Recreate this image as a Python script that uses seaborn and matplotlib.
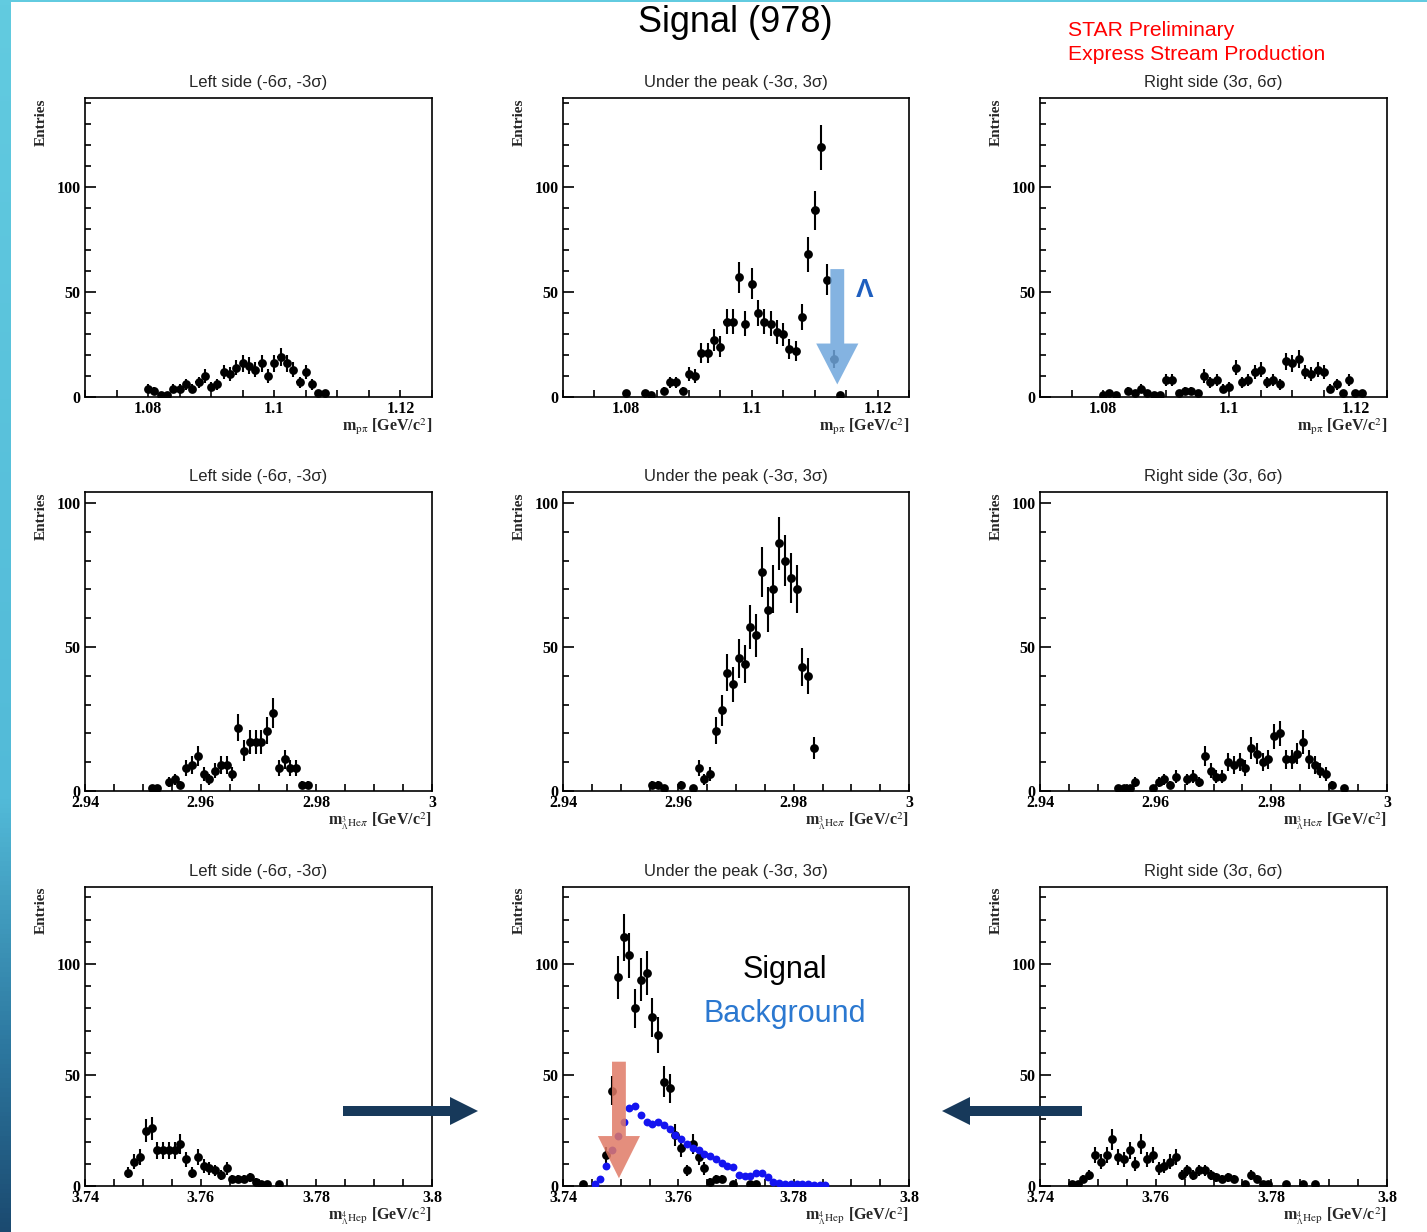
import numpy as np
import pandas as pd
import matplotlib
matplotlib.use("Agg")
import matplotlib.pyplot as plt
import seaborn as sns
from matplotlib.patches import FancyArrow, Rectangle
from matplotlib.ticker import MultipleLocator, FuncFormatter
from matplotlib.colors import LinearSegmentedColormap

nan = np.nan
BIN = 0.001  # bin width [GeV/c^2]

# ---- row 1: p pi invariant mass (bin centres start at *_x0) ----
lam_x0 = 1.0800
lam_left = [4, 3, 1, 1, 4, 4, 6, 4, 7, 10, 5, 6, 12, 11, 14, 16, 15, 13, 16, 10,
            16, 19, 16, 13, 7, 12, 6, 2, 2]
lam_peak = [2, nan, nan, 2, 1, nan, 3, 7, 7, 3, 11, 10, 21, 21, 27, 24, 36, 36, 57, 35,
            54, 40, 36, 35, 31, 30, 23, 22, 38, 68, 89, 119, 56, 18, 1]
lam_right = [1, 2, 1, nan, 3, 2, 4, 2, 1, 1, 8, 8, 2, 3, 3, 2, 10, 7, 8, 4,
             5, 14, 7, 8, 12, 13, 7, 8, 6, 17, 16, 18, 12, 11, 13, 12, 4, 6, 2, 8, 2, 2]

# ---- row 2: 3LH e pi invariant mass ----
h3_left_x0 = 2.9515
h3_left = [1, 1, nan, 3, 4, 2, 8, 9, 12, 6, 4, 7, 9, 9, 6, 22, 14, 17, 17, 17,
           21, 27, 8, 11, 8, 8, 2, 2]
h3_peak_x0 = 2.9555
h3_peak = [2, 2, 1, nan, nan, 2, nan, 1, 8, 4, 6, 21, 28, 41, 37, 46, 44, 57, 54, 76,
           63, 70, 86, 80, 74, 70, 43, 40, 15]
h3_right_x0 = 2.9535
h3_right = [1, 1, 1, 3, nan, nan, 1, 3, 4, 2, 5, nan, 4, 5, 3, 12, 7, 5, 5, 10,
            9, 10, 8, 15, 13, 10, 11, 19, 20, 11, 11, 13, 17, 11, 9, 7, 6, 2, nan, 1]

# ---- row 3: 4LH e p invariant mass ----
h4_left_x0 = 3.7475
h4_left = [6, 11, 13, 25, 26, 16, 16, 16, 16, 19, 12, 6, 13, 9, 8, 7, 5, 8, 3, 3,
           3, 4, 2, 1, 1, nan, 1]
h4_peak_x0 = 3.7435
h4_peak = [1, nan, nan, nan, 14, 43, 94, 112, 104, 80, 93, 96, 76, 68, 47, 44, 23, 17, 7, 19,
           13, 8, 2, 3, 3, nan, 1, nan, nan, 1, 1]
h4_bkg_x0 = 3.7455
h4_bkg = [1, 3, 9, 16, 22.5, 29, 35, 36, 32, 29, 28, 29, 27.5, 25.5, 23, 21, 19, 17.3, 16, 14.4,
          13.5, 12, 10.2, 9, 8.7, 5, 4.5, 4.5, 6, 5.7, 3.9, 2, 1.2, 0.9, 0.9, 0.9, 0.8, 0.8, 0.6, 0.5,
          0.4]
h4_right_x0 = 3.7455
h4_right = [1, 1, 3, 5, 14, 11, 14, 21, 13, 12, 16, 10, 19, 12, 14, 8, 9, 11, 13, 5,
            7, 5, 7, 7, 5, 4, 3, 4, 3, nan, 1, 5, 3, 1, 1, nan, nan, 1, nan, nan, 1, nan, 1]

col_titles = ["Left side (-6σ, -3σ)", "Under the peak (-3σ, 3σ)", "Right side (3σ, 6σ)"]
row_xlabels = [r"m$_{\mathrm{p\pi}}$ [GeV/c$^{2}$]",
               r"m$_{{}^{3}_{\Lambda}\mathrm{He}\pi}$ [GeV/c$^{2}$]",
               r"m$_{{}^{4}_{\Lambda}\mathrm{He}\mathrm{p}}$ [GeV/c$^{2}$]"]
row_xlims = [(1.07, 1.125), (2.94, 3.0), (3.74, 3.8)]
row_ymax = [142.6, 103.8, 134.7]

panels = [
    [(lam_x0, lam_left), (lam_x0, lam_peak), (lam_x0, lam_right)],
    [(h3_left_x0, h3_left), (h3_peak_x0, h3_peak), (h3_right_x0, h3_right)],
    [(h4_left_x0, h4_left), (h4_peak_x0, h4_peak), (h4_right_x0, h4_right)],
]

sns.set_theme(style="ticks")
plt.rcParams["font.family"] = ["Liberation Serif", "DejaVu Serif"]
plt.rcParams["mathtext.fontset"] = "stix"
SANS = ["Liberation Sans", "DejaVu Sans"]

W, H = 1427, 1232
fig = plt.figure(figsize=(W / 100, H / 100), dpi=100)
fig.patch.set_facecolor("white")

col_left = [85, 563, 1040]
col_width = [347, 346, 347]
row_top = [98, 492, 887]
ax_h = 299


def hist_frame(x0, counts):
    counts = np.asarray(counts, dtype=float)
    df = pd.DataFrame({"mass": x0 + BIN * np.arange(len(counts)), "entries": counts})
    return df.dropna()


def draw_hist(ax, x0, counts):
    df = hist_frame(x0, counts)
    ax.errorbar(df["mass"], df["entries"], yerr=np.sqrt(df["entries"]), xerr=BIN / 2,
                fmt="none", ecolor="black", elinewidth=1.5, capsize=0, zorder=3)
    sns.scatterplot(data=df, x="mass", y="entries", ax=ax, color="black",
                    s=40, linewidth=0, zorder=4)


def style_axes(ax, r):
    ax.set_xlim(*row_xlims[r])
    ax.set_ylim(0, row_ymax[r])
    ax.xaxis.set_major_locator(MultipleLocator(0.02))
    ax.xaxis.set_minor_locator(MultipleLocator(0.005))
    ax.xaxis.set_major_formatter(FuncFormatter(lambda v, p: f"{v:g}"))
    ax.yaxis.set_major_locator(MultipleLocator(50))
    ax.yaxis.set_minor_locator(MultipleLocator(10))
    ax.tick_params(axis="both", which="both", direction="in", colors="black",
                   top=False, right=False, labelsize=11.5, width=1.2)
    ax.tick_params(axis="y", which="major", length=8, pad=3)
    ax.tick_params(axis="y", which="minor", length=4.5)
    ax.tick_params(axis="x", which="both", length=5, pad=3)
    for sp in ax.spines.values():
        sp.set_visible(True)
        sp.set_color("black")
        sp.set_linewidth(1.2)
    for lbl in ax.get_xticklabels() + ax.get_yticklabels():
        lbl.set_fontweight("bold")
    ax.set_ylabel("Entries", loc="top", fontsize=11, fontweight="bold")
    ax.yaxis.set_label_coords(-0.107, 1.0)
    ax.set_xlabel(row_xlabels[r], loc="right", fontsize=11.5, fontweight="bold")
    ax.xaxis.set_label_coords(1.0, -0.064)


axes = []
for r in range(3):
    row_axes = []
    for c in range(3):
        ax = fig.add_axes([col_left[c] / W, 1 - (row_top[r] + ax_h) / H,
                           col_width[c] / W, ax_h / H])
        ax.set_facecolor("white")
        x0, counts = panels[r][c]
        draw_hist(ax, x0, counts)
        style_axes(ax, r)
        ax.set_title(col_titles[c], fontsize=12, family=SANS, pad=8)
        row_axes.append(ax)
    axes.append(row_axes)

# background overlay in the 4LH peak panel
ax_bkg = axes[2][1]
bkg = hist_frame(h4_bkg_x0, h4_bkg)
sns.scatterplot(data=bkg, x="mass", y="entries", ax=ax_bkg, color="#1414f0",
                s=32, linewidth=0, zorder=4)
style_axes(ax_bkg, 2)

# highlight arrows in data coordinates
axes[0][1].add_patch(FancyArrow(1.1136, 61, 0, -55, width=0.0022, head_width=0.0067,
                                head_length=19.5, length_includes_head=True,
                                color="#6fa6dc", alpha=0.85, lw=0, zorder=6))
axes[2][1].add_patch(FancyArrow(3.7497, 56, 0, -52.5, width=0.0024, head_width=0.0073,
                                head_length=19, length_includes_head=True,
                                color="#e07a66", alpha=0.85, lw=0, zorder=6))

# overlay in pixel coordinates for slide decorations
ov = fig.add_axes([0, 0, 1, 1], zorder=10)
ov.patch.set_alpha(0)
strip_cmap = LinearSegmentedColormap.from_list(
    "strip", [(0, "#62cbe0"), (0.65, "#52bad8"), (0.85, "#2d78a0"), (1, "#1b4a70")])
ov.imshow(np.linspace(0, 1, 256)[:, None], extent=[0, 11, H, 0], cmap=strip_cmap,
          aspect="auto")
ov.add_patch(Rectangle((0, 0), W, 2, color="#62cbe0", lw=0))
ov.add_patch(FancyArrow(343, 1111, 135, 0, width=10, head_width=28, head_length=28,
                        length_includes_head=True, color="#17395a", lw=0))
ov.add_patch(FancyArrow(1082, 1111, -140, 0, width=10, head_width=28, head_length=28,
                        length_includes_head=True, color="#17395a", lw=0))
ov.set_xlim(0, W)
ov.set_ylim(H, 0)
ov.axis("off")

fig.text(735 / W, 1 - 22 / H, "Signal (978)", ha="center", va="center",
         fontsize=26, family=SANS, color="black")
fig.text(1068 / W, 1 - 30 / H, "STAR Preliminary", ha="left", va="center",
         fontsize=15.2, family=SANS, color="#ff0000")
fig.text(1068 / W, 1 - 55 / H, "Express Stream Production", ha="left", va="center",
         fontsize=15.2, family=SANS, color="#ff0000")
fig.text(865 / W, 1 - 290 / H, "Λ", ha="center", va="center", fontsize=19,
         fontweight="bold", family=SANS, color="#1f5fbf")
fig.text(785 / W, 1 - 970 / H, "Signal", ha="center", va="center", fontsize=22,
         family=SANS, color="black")
fig.text(785 / W, 1 - 1014 / H, "Background", ha="center", va="center", fontsize=22,
         family=SANS, color="#2b78d0")

fig.savefig("out.png", dpi=100)
